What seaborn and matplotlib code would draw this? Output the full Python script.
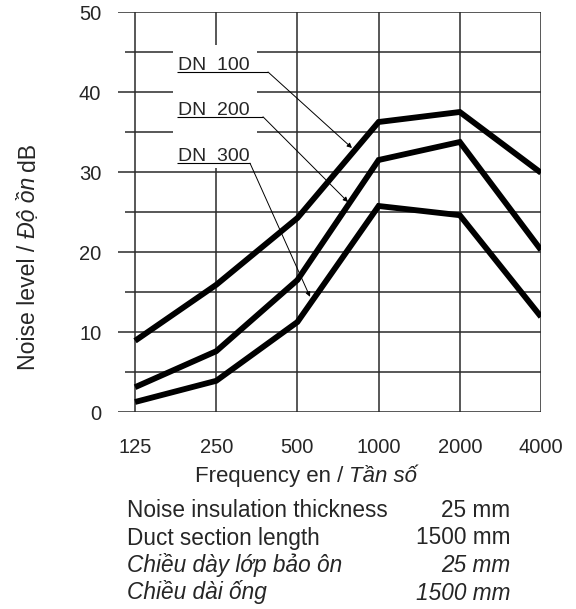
import matplotlib
matplotlib.use("Agg")
import matplotlib.pyplot as plt
from matplotlib.patches import Rectangle
import numpy as np
import pandas as pd
import seaborn as sns

# ---------------- data ----------------
frequencies = ["125", "250", "500", "1000", "2000", "4000"]
dn100 = [8.9, 15.9, 24.25, 36.25, 37.5, 29.9]
dn200 = [3.1, 7.6, 16.5, 31.5, 33.75, 20.25]
dn300 = [1.25, 3.9, 11.25, 25.75, 24.6, 11.9]
series_labels = ["DN  100", "DN  200", "DN  300"]
y_major = [0, 10, 20, 30, 40, 50]
y_minor = [5, 15, 25, 35, 45]

notes_left = ["Noise insulation thickness", "Duct section length",
              "Chiều dày lớp bảo ôn", "Chiều dài ống"]
notes_right = ["25 mm", "1500 mm", "25 mm", "1500 mm"]
notes_style = ["normal", "normal", "italic", "italic"]

df = pd.DataFrame({
    "freq": frequencies * 3,
    "level": dn100 + dn200 + dn300,
    "series": [s for s in series_labels for _ in frequencies],
})

# ---------------- style ----------------
sns.set_style("white")
plt.rcParams["font.family"] = ["Liberation Sans", "DejaVu Sans"]
GRID = "#2a2a2a"
GW = 1.1

fig = plt.figure(figsize=(5.76, 6.09), dpi=100)
W, H = 576.0, 609.0
ax_left, ax_right, ax_top, ax_bottom = 118, 541, 12, 412
ax = fig.add_axes([ax_left / W, 1 - ax_bottom / H,
                   (ax_right - ax_left) / W, (ax_bottom - ax_top) / H])

sns.lineplot(data=df, x="freq", y="level", hue="series",
             palette=["black"] * 3, linewidth=4.2, legend=False,
             sort=False, ax=ax, zorder=3,
             solid_capstyle="butt", solid_joinstyle="miter")

ax.set_xlim(-0.21, 5.0)
ax.set_ylim(0, 50)
for s in ax.spines.values():
    s.set_visible(False)

# grid
ax.set_xticks(range(len(frequencies)))
ax.set_xticklabels(frequencies)
ax.set_yticks(y_major)
ax.grid(axis="x", color=GRID, lw=GW, zorder=0.5)
ax.grid(axis="y", color=GRID, lw=GW, zorder=0.5)
ax.hlines(y_minor, -0.12, 5.0, color=GRID, lw=GW, zorder=0.5)
ax.set_axisbelow(True)
ax.tick_params(axis="x", direction="out", length=10.8, width=GW, color=GRID,
               labelsize=14.5, pad=8)
ax.tick_params(axis="y", length=0, labelsize=14.5, pad=12)
ax.set_xlabel("")
ax.set_ylabel("")

# white box behind labels
ax.add_patch(Rectangle((0.468, 30.5), 1.035, 15.4, facecolor="white",
                       edgecolor="none", zorder=1))

# labels with underline + leader arrows
label_pos = [(0.517, 42.5, 1.638, (2.672, 33.0)),
             (0.517, 36.9, 1.576, (2.623, 26.25)),
             (0.517, 31.1, 1.416, (2.155, 14.4))]
for lab, (x0, yb, x1, tip) in zip(series_labels, label_pos):
    ax.text(x0 + 0.01, yb + 0.25, lab, fontsize=14, ha="left", va="baseline",
            zorder=4)
    ax.plot([x0, x1], [yb, yb], color="black", lw=0.8, zorder=4,
            solid_capstyle="butt")
    ax.annotate("", xy=tip, xytext=(x1, yb),
                arrowprops=dict(arrowstyle="-|>", lw=0.7, color="black",
                                mutation_scale=7, shrinkA=0, shrinkB=0),
                zorder=4)

# ---------------- mixed-style labels ----------------
fig.canvas.draw()
renderer = fig.canvas.get_renderer()


def space_px(fs):
    return 0.278 * fs / 72 * fig.dpi


def chain_horizontal(x_px, base_px, pieces, fs):
    cur = x_px
    for txt, style in pieces:
        if txt == " ":
            cur += space_px(fs)
            continue
        t = fig.text(cur / W, 1 - base_px / H, txt, fontsize=fs, style=style,
                     ha="left", va="baseline")
        cur += t.get_window_extent(renderer).width


def chain_vertical(base_x_px, y_px, pieces, fs):
    cur = y_px
    for txt, style in pieces:
        if txt == " ":
            cur -= space_px(fs)
            continue
        t = fig.text(base_x_px / W, 1 - cur / H, txt, fontsize=fs, style=style,
                     rotation=90, rotation_mode="anchor",
                     ha="left", va="baseline")
        cur -= t.get_window_extent(renderer).height


chain_horizontal(195, 482, [("Frequency en /", "normal"), (" ", None),
                            ("Tần số", "italic")], 16)
chain_vertical(35, 370, [("Noise level /", "normal"), (" ", None),
                         ("Độ ồn", "italic"), (" ", None), ("dB", "normal")], 16.6)

# notes block
for i, (l, r, st) in enumerate(zip(notes_left, notes_right, notes_style)):
    yb = 517 + i * 27.5
    fig.text(127 / W, 1 - yb / H, l, fontsize=16.3, style=st, ha="left",
             va="baseline")
    fig.text(510 / W, 1 - yb / H, r, fontsize=16.3, style=st, ha="right",
             va="baseline")

fig.savefig("out.png", dpi=100)
